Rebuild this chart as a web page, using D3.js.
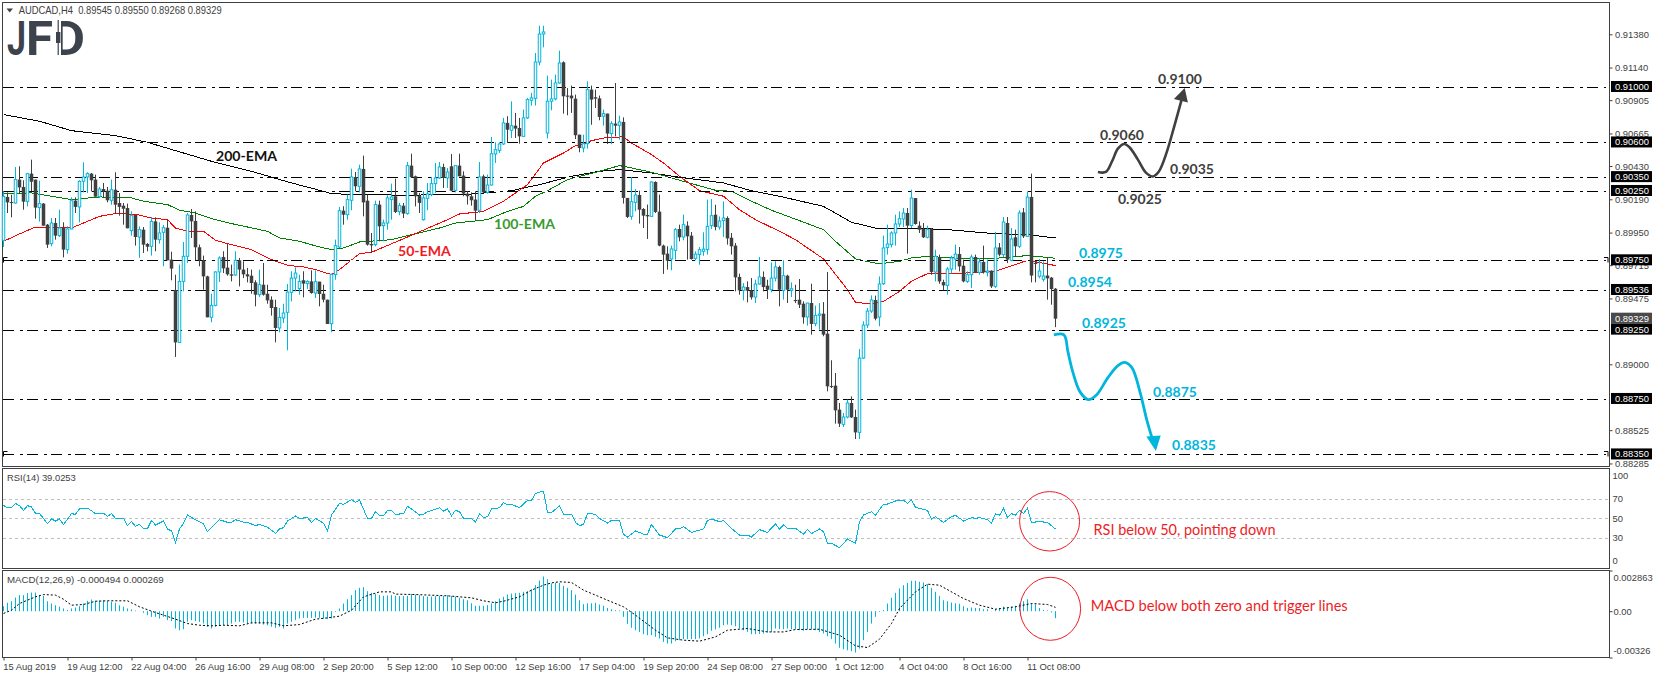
<!DOCTYPE html>
<html><head><meta charset="utf-8">
<script src="https://cdn.jsdelivr.net/npm/d3@7"></script>
<style>html,body{margin:0;padding:0;background:#fff;overflow:hidden}svg{display:block}</style>
</head><body><svg id="c" width="1655" height="678"></svg>
<script>
// Prices in 1e-5 units, one entry per H4 bar
const opens=[
89894,90207,90170,90163,90332,90279,90175,90375,90332,90130,
90159,90007,89870,90019,89928,89983,89827,89976,90180,90135,
90320,90351,90375,90332,90209,90264,90252,90183,90259,90163,
90144,90127,89964,90077,89918,89971,89868,89851,90031,89899,
89952,89985,89755,89536,89158,89598,89779,90077,90034,89844,
89750,89634,89339,89425,89666,89774,89697,89649,89644,89750,
89683,89649,89639,89591,89502,89574,89509,89466,89413,89262,
89334,89375,89519,89622,89546,89606,89582,89598,89514,89596,
89509,89466,89293,89647,89846,
90108,90079,90183,90351,90284,90409,90180,89868,89863,90152,
90000,90019,90188,90212,90101,90144,90087,90433,90356,90216,
90043,90197,90224,90303,90344,90423,90344,90428,90255,90433,
90361,90231,90212,90188,90111,90356,90240,90293,90517,90543,
90589,90741,90688,90721,90704,90644,90777,90904,90918,91180,
91382,90668,90897,90914,91029,91178,90938,90938,90916,90656,
90560,90591,90981,90926,90918,90789,90808,90664,90736,90724,
90748,90200,90067,90168,90221,90120,90077,90067,90315,90101,
89856,89798,89760,89822,89976,
89918,90000,89928,89764,89791,89815,89827,90000,90079,89990,
90036,90055,89913,89856,89630,89533,89557,89533,89485,89579,
89630,89567,89538,89622,89702,89533,89639,89533,89464,89466,
89437,89341,89442,89293,89353,89365,89221,88843,88846,88673,
88567,88620,88721,88620,88509,89045,89283,89384,89464,89341,
89581,89843,89863,89947,90012,90048,90091,90000,90199,90000,
89976,89916,89978,89666,89774,89593,89569,89687,89759,89795,
89711,89598,89646,89774,89663,89738,89663,89675,89562,89843,
89791,90019,89750,89916,89851,90096,89923,
90207,89731,89635,89613,89640,89625,89545];
const highs=[
90248,90240,90223,90423,90428,90327,90380,90476,90332,90324,
90163,90012,90055,90055,90115,90024,89995,90204,90204,90327,
90457,90385,90380,90368,90279,90308,90279,90332,90385,90235,
90163,90159,90103,90077,89995,89990,89875,90060,90060,90024,
90005,90043,89812,89646,89719,89882,90091,90120,90103,89863,
89784,89639,89509,89671,89779,89815,89868,89719,89815,89767,
89743,89695,89683,89606,89683,89731,89574,89490,89466,89406,
89437,89579,89671,89699,89646,89671,89606,89678,89678,89596,
89574,89466,89654,89899,90135,
90140,90224,90411,90387,90440,90505,90224,89947,90180,90180,
90043,90219,90303,90339,90164,90164,90459,90519,90361,90236,
90248,90308,90351,90452,90459,90447,90416,90517,90433,90519,
90392,90248,90240,90248,90459,90368,90368,90640,90601,90601,
90777,90789,90897,90813,90777,90837,90921,90957,91245,91442,
91442,91082,91053,91089,91262,91185,90993,91010,90945,90656,
90656,91041,91010,90981,90938,90837,90808,90753,91029,90793,
90781,90200,90351,90265,90252,90127,90152,90320,90320,90224,
89863,89851,89856,89983,90007,
90079,90031,89954,89815,89846,89952,90187,90192,90151,90067,
90175,90067,89947,89875,89654,89586,89598,89622,89610,89774,
89670,89610,89735,89743,89711,89750,89646,89591,89574,89615,
89454,89442,89581,89423,89442,89449,89666,89029,88937,88721,
88649,88745,88769,88673,89110,89310,89406,89497,89495,89634,
89928,90007,89959,90079,90103,90127,90127,90259,90199,90031,
90019,90000,89983,89827,89791,89610,89702,89783,89863,89846,
89755,89670,89791,89791,89767,89856,89755,89678,89954,89875,
90062,90062,89983,89971,90110,90127,90247,
90375,89743,89760,89743,89774,89630,89550];
const lows=[
89846,90091,90060,90159,90228,90115,90139,90247,90050,90029,
90000,89839,89851,89899,89918,89771,89798,89976,90091,90024,
90240,90235,90247,90209,90199,90199,90168,90151,90086,90072,
90007,89981,89928,89856,89767,89803,89815,89784,89815,89870,
89707,89750,89606,89053,89154,89526,89731,89911,89750,89707,
89538,89339,89303,89418,89594,89658,89639,89598,89639,89562,
89622,89591,89509,89418,89485,89495,89437,89351,89158,89231,
89298,89101,89454,89526,89502,89483,89543,89509,89478,89418,
89447,89291,89231,89610,89839,
90007,90043,90111,90248,90240,90067,89856,89803,89851,89887,
89887,89971,90043,90091,90075,90055,90079,90344,90139,90091,
90036,90111,90212,90236,90337,90272,90272,90248,90240,90356,
90212,90152,90144,90039,90091,90236,90231,90289,90452,90524,
90582,90596,90632,90632,90591,90640,90769,90866,90866,91156,
91286,90628,90832,90904,91024,90808,90796,90813,90625,90529,
90529,90555,90728,90849,90760,90721,90589,90587,90644,90620,
90159,90055,90043,90103,90015,89983,89904,90063,90091,89851,
89652,89683,89678,89755,89887,
89894,89755,89755,89750,89718,89783,89791,89976,89966,89971,
89918,89863,89791,89526,89502,89461,89447,89466,89442,89574,
89526,89471,89519,89598,89418,89466,89442,89485,89442,89406,
89293,89279,89214,89274,89250,89202,88805,88829,88572,88548,
88548,88610,88613,88461,88461,89038,89262,89370,89317,89274,
89572,89791,89843,89856,89990,89990,89798,89983,90007,89947,
89911,89908,89646,89598,89581,89533,89502,89654,89682,89670,
89591,89586,89550,89658,89646,89654,89634,89550,89550,89779,
89774,89730,89743,89774,89839,89911,89918,
89591,89591,89620,89596,89466,89430,89268];
const closes=[
90211,90168,90168,90332,90276,90173,90375,90317,90130,90159,
90000,89863,90019,89928,89983,89827,89976,90180,90135,90320,
90351,90375,90327,90209,90264,90247,90183,90259,90151,90135,
90122,89981,90072,89918,89971,89863,89848,90031,89899,89947,
89985,89750,89690,89158,89598,89779,90077,90031,89844,89750,
89634,89339,89425,89666,89767,89692,89649,89639,89750,89683,
89649,89634,89586,89502,89574,89502,89461,89406,89262,89339,
89370,89521,89622,89658,89598,89582,89598,89514,89596,89507,
89466,89291,89649,89856,90108,
90079,90188,90351,90284,90409,90168,89863,89858,90152,89995,
90019,90200,90207,90099,90144,90087,90433,90349,90212,90164,
90200,90228,90303,90344,90423,90344,90387,90252,90433,90356,
90231,90212,90183,90108,90351,90240,90293,90519,90548,90589,
90741,90692,90721,90700,90644,90777,90909,90921,91180,91382,
91397,90897,90914,91029,91173,90933,90930,90918,90652,90560,
90591,90981,90909,90916,90784,90808,90664,90736,90721,90748,
90200,90063,90173,90221,90115,90072,90067,90315,90099,89856,
89791,89748,89832,89971,89916,
90007,89923,89759,89795,89827,89831,89995,90072,89990,90033,
90055,89908,89851,89627,89533,89557,89531,89483,89579,89630,
89557,89538,89622,89702,89538,89639,89538,89545,89456,89430,
89339,89442,89291,89353,89363,89214,88841,88836,88668,88572,
88620,88721,88617,88509,89045,89283,89384,89464,89329,89579,
89839,89868,89947,90012,90050,90091,90000,90199,90012,89971,
89916,89971,89666,89779,89598,89569,89687,89767,89795,89706,
89598,89646,89774,89663,89738,89663,89673,89562,89839,89791,
90026,89755,89904,89851,90091,89923,90206,
89640,89724,89673,89637,89620,89543,89329];

const ema200Bars=[0,9,17,28,36,52,62,72,79,82,86,101,117,127,134,142,149,154,162,169,180,187,194,205,212,219,227,236,248,256,263];
const ema200=[90801,90753,90685,90649,90601,90464,90392,90308,90255,90231,90226,90219,90228,90252,90296,90356,90392,90404,90380,90349,90308,90252,90212,90139,90024,89976,89983,89971,89942,89935,89911];
const ema100Bars=[0,7,12,17,24,32,35,41,44,48,52,57,66,69,74,79,82,85,89,97,101,109,113,121,126,130,133,136,141,144,149,154,157,162,167,172,178,182,187,192,199,205,208,213,219,224,227,231,240,246,256,263];
const ema100=[90231,90236,90212,90188,90207,90200,90176,90152,90111,90091,90051,90015,89959,89911,89887,89846,89827,89839,89882,89899,89928,89983,90019,90043,90103,90139,90212,90252,90332,90356,90392,90433,90416,90385,90344,90303,90255,90248,90176,90111,90036,89971,89887,89760,89724,89743,89767,89779,89762,89760,89784,89765];
const ema50Bars=[0,4,8,13,17,21,24,28,33,37,41,43,46,50,53,57,62,67,71,75,78,82,84,89,92,101,111,114,120,125,131,135,140,143,144,147,151,155,157,162,165,169,174,180,184,188,194,198,201,205,211,213,217,220,224,227,231,238,248,256,263];
const ema50=[89887,89940,89990,89988,89983,90031,90067,90087,90082,90055,90043,89983,89959,89959,89894,89863,89827,89755,89714,89702,89683,89647,89683,89798,89808,89918,90043,90084,90103,90176,90296,90452,90524,90577,90579,90613,90637,90640,90596,90512,90452,90356,90252,90212,90115,90043,89959,89899,89839,89760,89538,89447,89435,89454,89526,89599,89654,89654,89671,89750,89712];

const levels=[0.9100,0.9060,0.9035,0.9025,0.8975,0.89536,0.8925,0.8875,0.8835];
const levelLabels=["0.91000","0.90600","0.90350","0.90250","0.89750","0.89536","0.89250","0.88750","0.88350"];
const lastPrice=0.89329;
const priceTicks=[0.9138,0.9114,0.90905,0.90665,0.9043,0.9019,0.8995,0.89715,0.89475,0.89,0.88525,0.88285];
const dateTicks=[0,16,32,48,64,80,96,112,128,144,160,176,192,208,224,240,256];
const dateLabels=["15 Aug 2019","19 Aug 12:00","22 Aug 04:00","26 Aug 16:00","29 Aug 08:00","2 Sep 20:00","5 Sep 12:00","10 Sep 00:00","12 Sep 16:00","17 Sep 04:00","19 Sep 20:00","24 Sep 08:00","27 Sep 00:00","1 Oct 12:00","4 Oct 04:00","8 Oct 16:00","11 Oct 08:00"];

const rsiBars=[0,1,2,3,4,5,6,7,8,9,11,12,13,14,15,17,18,19,21,23,25,26,27,28,30,31,32,33,34,35,36,37,38,40,41,42,43,44,45,46,48,50,51,52,54,56,57,58,60,61,63,64,66,68,69,70,71,73,74,76,77,78,80,81,82,84,85,87,88,89,91,92,93,94,95,96,97,98,100,101,102,104,105,106,109,110,111,112,113,114,115,117,118,119,120,121,122,124,125,126,127,129,131,132,133,135,136,137,139,140,142,143,144,145,146,148,149,151,152,154,155,156,158,160,161,162,164,166,168,169,170,172,175,176,177,179,180,182,184,186,187,189,191,193,194,195,196,198,200,201,202,204,205,206,207,209,211,213,214,215,217,218,220,221,223,225,226,227,228,231,232,233,235,237,238,240,242,243,244,246,247,248,249,250,251,252,253,254,255,256,257,259,261,263];
const rsiValues=[63.3,60.9,60.9,65.4,63.0,58.2,63.0,61.6,55.1,55.1,44.5,49.3,47.3,49.3,43.8,54.8,54.1,59.9,60.6,54.8,55.1,52.1,54.8,50,50,42.5,46.6,41.8,43.8,39.4,39.4,47.9,43.2,47.3,38.7,37.4,25.4,39.1,44.9,53.4,48.6,44.5,36.3,40.4,48.6,45.9,45.9,48.6,46.2,45.9,42.5,43.8,40.8,34.6,39.1,40.4,47.3,52.4,50,50.7,45.9,50,44.9,37.4,53.4,65.4,64.4,69.1,66.4,68.8,50,50,56.8,52.7,52.7,58.2,58.2,54.1,54.8,62.3,59.6,53.4,54.1,56.8,60.9,57.5,59.6,52.7,58.2,56.8,50,50,46.2,54.8,50.7,51.7,59.6,60.9,66.1,63.7,64.4,60.9,68.5,68.5,75.6,78.0,56.2,55.8,63.0,54.1,54.1,45.9,42.5,43.8,55.1,54.1,50,45.2,47.9,47.9,33.6,30.9,37.0,33.9,33.6,43.8,32.9,30.2,39.1,39.1,41.5,35.6,39.1,47.9,49.3,46.6,47.9,39.7,32.9,32.9,30.9,38.4,35.6,44.5,39.1,43.2,39.7,39.7,33.9,38.4,34.3,39.1,36.3,24.7,24.4,19.9,28.8,24.4,46.6,53.4,56.8,53.4,64.4,64.7,67.8,68.5,65.4,68.8,61.3,58.2,49.3,51.7,45.9,51.7,53.1,47.3,50.7,50,50.7,48.6,45.2,54.8,53.1,60.3,50.7,54.8,53.4,58.2,55.1,60.3,45.9,46.6,45.9,39.0253];
const rsiLevels=[70,50,30];
const rsiTicks=[100,70,50,30,0];

// MACD histogram, in 1e-4 units, one per bar
const macdHist=[
3.5,5.9,7.0,9.6,11.3,11.3,12.7,13.1,13.1,11.3,
10.8,7.0,5.4,4.2,3.1,1.9,0.9,1.9,2.6,3.5,
5.4,7.3,8.2,7.3,7.5,7.7,7.3,6.6,5.9,4.2,
3.1,1.9,1.2,0.5,0.1,-1.2,-2.8,-4.0,-4.0,-5.2,
-4.0,-6.3,-7.0,-12.2,-13.4,-12.7,-7.5,-6.3,-7.0,-7.5,
-8.7,-11.0,-12.2,-11.0,-10.3,-9.9,-9.9,-8.7,-7.5,-7.5,
-8.0,-8.7,-8.7,-8.7,-8.7,-9.4,-9.9,-11.0,-11.7,-11.0,
-12.2,-8.7,-7.5,-6.3,-5.2,-4.7,-4.7,-4.7,-4.5,-4.7,
-5.2,-5.6,-5.2,-0.5,1.9,5.4,8.4,11.3,14.8,16.4,
16.9,14.1,12.9,12.2,11.3,10.8,11.0,11.3,10.8,10.6,
10.6,10.8,12.2,11.7,11.3,10.6,10.3,10.3,10.6,10.8,
10.8,11.3,10.8,10.3,9.4,8.4,7.7,5.6,3.8,3.8,
3.8,4.2,5.4,7.0,8.9,10.1,11.7,12.4,12.7,12.9,
13.6,14.1,15.5,18.3,21.6,24.4,22.5,19.5,19.9,19.9,
17.8,16.4,14.8,11.7,7.7,4.9,5.6,5.6,5.9,4.7,
3.8,2.3,1.4,0.7,0.5,-4.0,-8.9,-11.7,-13.4,-14.6,
-16.2,-16.9,-16.9,-18.1,-19.2,-21.6,-22.8,-22.8,-21.1,-20.4,
-19.7,-19.7,-19.7,-19.7,-19.2,-17.6,-16.2,-13.8,-12.9,-11.7,
-9.9,-9.4,-9.9,-10.6,-12.2,-13.4,-14.6,-16.2,-16.2,-16.0,
-15.7,-15.0,-14.6,-12.2,-12.7,-12.7,-12.2,-12.7,-12.7,-13.4,
-13.8,-12.7,-12.9,-13.4,-14.6,-15.7,-17.6,-19.7,-22.8,-25.8,
-26.8,-27.5,-28.2,-29.1,-26.3,-20.4,-14.6,-8.7,-4.0,-0.5,
0.7,5.4,9.4,12.9,16.0,18.3,19.9,21.4,21.4,20.7,
20.2,19.0,16.4,13.6,10.8,7.7,7.0,6.1,5.6,5.2,
3.5,2.3,2.6,2.3,2.3,1.4,1.4,0.2,1.4,1.9,
3.3,2.3,3.1,3.8,5.4,7.0,8.4,5.4,4.7,2.3,
0.9,0.5,-0.9,-4.94];
const signalBars=[0,2,4,8,10,13,15,17,20,23,26,31,34,37,40,43,46,49,52,55,59,62,67,70,74,78,81,84,87,90,94,97,98,103,111,117,120,123,125,129,132,135,137,139,142,145,148,151,155,158,163,166,170,174,178,181,186,191,195,198,204,209,213,216,219,222,224,228,231,234,240,244,248,253,257,261,263];
const signalValues=[-1.6,0.7,5.4,10.1,11.7,11.3,8.4,4.2,4.7,7.0,7.3,7.3,3.1,0,-2.8,-5.6,-8.7,-9.9,-10.3,-9.9,-10.3,-8.2,-8.2,-10.3,-9.4,-5.6,-4.7,-3.5,0.7,10.1,13.6,13.6,12.0,11.7,10.8,9.4,7.3,5.9,7.0,10.1,14.8,18.3,19.9,20.7,20.2,14.8,11.3,7.7,3.1,-2.8,-13.4,-18.8,-20.4,-21.1,-18.1,-13.4,-12.2,-14.6,-14.6,-12.9,-12.7,-16.9,-24.4,-25.6,-19.7,-8.7,1.9,13.6,19.0,18.3,8.9,4.2,1.4,3.1,5.4,4.7,2.69];
const macdTicks=[0.002863,0,-0.00326];
const macdTickLabels=["0.002863","0.00","-0.00326"];

// Drawn scenario paths, as [bar position, price in 1e-5 units]
const bullPath=[[273.6,90387],[275.6,90387],[277.1,90461],[278.6,90555],[280.2,90589],[281.6,90562],[283.6,90476],[285.6,90382],[287.3,90355],[288.8,90389],[290.6,90512],[292.6,90707],[294.6,90916]];
const bullHead=[[295.3,90993],[292.6,90913],[296.1,90888]];
const bearPath=[[262.6,89212],[265.1,89212],[266.1,89091],[267.3,88947],[269.1,88803],[271.2,88745],[273.3,88781],[276.1,88904],[278.6,88991],[280.3,89014],[282.1,88976],[284.1,88803],[285.8,88601],[287.1,88472]];
const bearHead=[[288.1,88374],[285.7,88479],[289.3,88486]];
const darkTargets=[["0.9100",1158,79],["0.9060",1100,135],["0.9035",1170,169],["0.9025",1118,199]];
const blueTargets=[["0.8975",1079,253],["0.8954",1068,282],["0.8925",1082,323],["0.8875",1153,392],["0.8835",1172,445]];

const CYAN="#00b6dd",DARK="#404040",AXIS="#3e3e3e",RED="#ee1c25";
const FONT="'Liberation Sans',Arial,sans-serif",ANN="Lato,sans-serif";
const svg=d3.select("#c");
const L=2.5,R=1609.5,MT=2.5,MB=466.5,RT=468.5,RB=568.5,DT=570.5,DB=657.5;

const x=d3.scaleLinear().domain([0,263]).range([3.5,1055.5]);
const y=d3.scaleLinear().domain([0.9138,0.89]).range([34.3,364.3]);
const yP=p=>y(p/1e5);
const yR=d3.scaleLinear().domain([100,0]).range([469.6,567.1]);
const yM=d3.scaleLinear().domain([0.002863,-0.00326]).range([570.5,657.5]);

// frames
[[MT,MB],[RT,RB],[DT,DB]].forEach(([a,b])=>svg.append("rect").attr("x",L).attr("y",a).attr("width",R-L).attr("height",b-a).attr("fill","none").attr("stroke",DARK).attr("stroke-width",1));

// EMAs
const emaLine=(bars,vals,col)=>svg.append("path").attr("fill","none").attr("stroke",col).attr("stroke-width",1).attr("shape-rendering","crispEdges")
  .attr("d",d3.line().x((d,i)=>x(bars[i])).y(d=>yP(d))(vals));
emaLine(ema200Bars,ema200,"#000");
emaLine(ema100Bars,ema100,"#008000");
emaLine(ema50Bars,ema50,"#f00");

// horizontal levels (white under-stroke breaks the averages)
const gL=svg.append("g");
levels.forEach(v=>{
  const yy=Math.round(y(v))+0.5;
  gL.append("line").attr("x1",3).attr("x2",1606).attr("y1",yy).attr("y2",yy).attr("stroke","#fff").attr("stroke-width",1);
  gL.append("line").attr("x1",3).attr("x2",1606).attr("y1",yy).attr("y2",yy).attr("stroke","#000").attr("stroke-width",1).attr("stroke-dasharray","11,6,3,4");
});
[0.8975,0.8835].forEach(v=>{
  const yy=Math.round(y(v))+0.5;
  svg.append("path").attr("fill","none").attr("stroke","#000").attr("d",`M3.5,${yy+2}V${yy-3}H7.5M1608,${yy+2}V${yy-3}H1604`);
});

// candles
const bars=d3.range(opens.length);
const gC=svg.append("g");
gC.selectAll("line").data(bars).join("line")
  .attr("x1",i=>x(i)).attr("x2",i=>x(i)).attr("y1",i=>yP(highs[i])).attr("y2",i=>yP(lows[i]))
  .attr("stroke",i=>closes[i]>=opens[i]?CYAN:DARK).attr("stroke-width",1);
gC.selectAll("rect").data(bars).join("rect")
  .attr("x",i=>x(i)-(closes[i]>=opens[i]?1.25:1.75))
  .attr("width",i=>closes[i]>=opens[i]?2.5:3.5)
  .attr("y",i=>Math.min(yP(opens[i]),yP(closes[i])))
  .attr("height",i=>Math.max(1,Math.abs(yP(opens[i])-yP(closes[i]))))
  .attr("fill",i=>closes[i]>=opens[i]?"#fff":DARK)
  .attr("stroke",i=>closes[i]>=opens[i]?CYAN:"none").attr("stroke-width",1);

// RSI
rsiLevels.forEach(v=>svg.append("line").attr("x1",3).attr("x2",R).attr("y1",Math.round(yR(v))+.5).attr("y2",Math.round(yR(v))+.5).attr("stroke","#c0c0c0").attr("stroke-dasharray","3,3"));
svg.append("path").attr("fill","none").attr("stroke",CYAN).attr("stroke-width",1).attr("shape-rendering","crispEdges")
  .attr("d",d3.line().x((d,i)=>x(rsiBars[i])).y(d=>yR(d))(rsiValues));

// MACD
svg.append("g").selectAll("line").data(macdHist).join("line")
  .attr("x1",(d,i)=>x(i)).attr("x2",(d,i)=>x(i)).attr("y1",yM(0)).attr("y2",d=>yM(d*1e-4))
  .attr("stroke",CYAN).attr("stroke-width",1);
svg.append("path").attr("fill","none").attr("stroke","#000").attr("stroke-width",1).attr("stroke-dasharray","2,2")
  .attr("d",d3.line().x((d,i)=>x(signalBars[i])).y(d=>yM(d*1e-4))(signalValues));

// axes
function style(g){g.select(".domain").remove();g.selectAll("line").attr("stroke",DARK);g.selectAll("text").attr("fill",AXIS).attr("font-family",FONT).attr("font-size","9.4px");}
svg.append("g").attr("transform",`translate(${R},0)`).call(d3.axisRight(y).tickValues(priceTicks).tickFormat(d3.format(".5f")).tickSize(3).tickPadding(2.5)).call(style);
const axR=svg.append("g").attr("transform",`translate(${R},0)`).call(d3.axisRight(yR).tickValues(rsiTicks).tickSize(0).tickPadding(3)).call(style);
axR.selectAll("text").attr("dy",d=>d===100?"0.95em":d===0?"-0.4em":"0.32em");
const axM=svg.append("g").attr("transform",`translate(${R},0)`).call(d3.axisRight(yM).tickValues(macdTicks).tickFormat((d,i)=>macdTickLabels[i]).tickSize(3).tickPadding(1)).call(style);
axM.selectAll("text").attr("dy",d=>d>0?"1.05em":d<0?"-0.4em":"0.32em");
const axX=svg.append("g").attr("transform",`translate(0,${DB})`).call(d3.axisBottom(x).tickValues(dateTicks).tickFormat((d,i)=>dateLabels[i]).tickSize(3).tickPadding(3)).call(style);
axX.selectAll("text").attr("text-anchor","start").attr("dx","-0.8");

// price boxes
function box(v,txt,fill){const yy=y(v);
  svg.append("rect").attr("x",1611).attr("y",yy-6).attr("width",41).attr("height",11).attr("fill",fill);
  svg.append("text").attr("x",1615).attr("y",yy+3).attr("fill","#fff").attr("font-family",FONT).attr("font-size","9.4px").text(txt);}
box(lastPrice,"0.89329","#4a4a4a");
levels.forEach((v,i)=>box(v,levelLabels[i],"#000"));

// titles
svg.append("path").attr("fill",DARK).attr("d","M6.5,8.5H13L9.7,12.5Z");
const t=(s,xx,yy,o={})=>svg.append("text").attr("x",xx).attr("y",yy).attr("font-family",o.f||FONT).attr("font-size",o.s||"9.4px").attr("font-weight",o.w||400).attr("fill",o.c||AXIS).text(s);
t("AUDCAD,H4  0.89545 0.89550 0.89268 0.89329",18.7,13.8,{s:"10.2px"}).style("white-space","pre").attr("textLength",203).attr("lengthAdjust","spacingAndGlyphs");
t("RSI(14) 39.0253",7,481);
t("MACD(12,26,9) -0.000494 0.000269",7,582.5,{s:"9.7px"});

// logo
const logoFill="#3c434c",LF="Roboto,Lato,sans-serif";
t("J",7,55,{f:LF,s:"49px",w:700,c:logoFill}).attr("textLength",19).attr("lengthAdjust","spacingAndGlyphs");
t("F",26,55,{f:LF,s:"49px",w:700,c:logoFill}).attr("textLength",27).attr("lengthAdjust","spacingAndGlyphs");
t("D",52,55,{f:LF,s:"49px",w:700,c:logoFill}).attr("textLength",33).attr("lengthAdjust","spacingAndGlyphs");
svg.append("rect").attr("x",53).attr("y",18).attr("width",8).attr("height",38).attr("fill","#fff");
svg.append("rect").attr("x",56).attr("y",32).attr("width",4.4).attr("height",11).attr("fill",logoFill);
svg.append("rect").attr("x",57.6).attr("y",20).attr("width",1.2).attr("height",35).attr("fill",logoFill);

// EMA labels
t("200-EMA",216,161,{f:ANN,s:"14.1px",w:700,c:"#111"});
t("100-EMA",494,229,{f:ANN,s:"14.1px",w:700,c:"#3a9a32"});
t("50-EMA",398,256,{f:ANN,s:"14.1px",w:700,c:RED});

// scenario arrows
const scen=d3.line().x(d=>x(d[0])).y(d=>yP(d[1])).curve(d3.curveCatmullRom);
const head=h=>h.map(d=>[x(d[0]),yP(d[1])].join(",")).join(" ");
svg.append("path").attr("fill","none").attr("stroke",DARK).attr("stroke-width",2.6).attr("d",scen(bullPath));
svg.append("polygon").attr("fill",DARK).attr("points",head(bullHead));
svg.append("path").attr("fill","none").attr("stroke",CYAN).attr("stroke-width",2.8).attr("d",scen(bearPath));
svg.append("polygon").attr("fill",CYAN).attr("points",head(bearHead));
darkTargets.forEach(d=>t(d[0],d[1],d[2]+5,{f:ANN,s:"14px",w:700,c:DARK}));
blueTargets.forEach(d=>t(d[0],d[1],d[2]+5,{f:ANN,s:"14px",w:700,c:CYAN}));

// circles and notes
svg.append("ellipse").attr("cx",1049.6).attr("cy",521.3).attr("rx",30).attr("ry",29.7).attr("fill","none").attr("stroke",RED);
svg.append("ellipse").attr("cx",1050.3).attr("cy",608.8).attr("rx",30.3).attr("ry",31.5).attr("fill","none").attr("stroke",RED);
t("RSI below 50, pointing down",1093.5,535,{f:ANN,s:"14.6px",c:RED}).attr("textLength",182).attr("lengthAdjust","spacingAndGlyphs");
t("MACD below both zero and trigger lines",1090.7,611,{f:ANN,s:"14.6px",c:RED}).attr("textLength",257).attr("lengthAdjust","spacingAndGlyphs");
</script></body></html>
